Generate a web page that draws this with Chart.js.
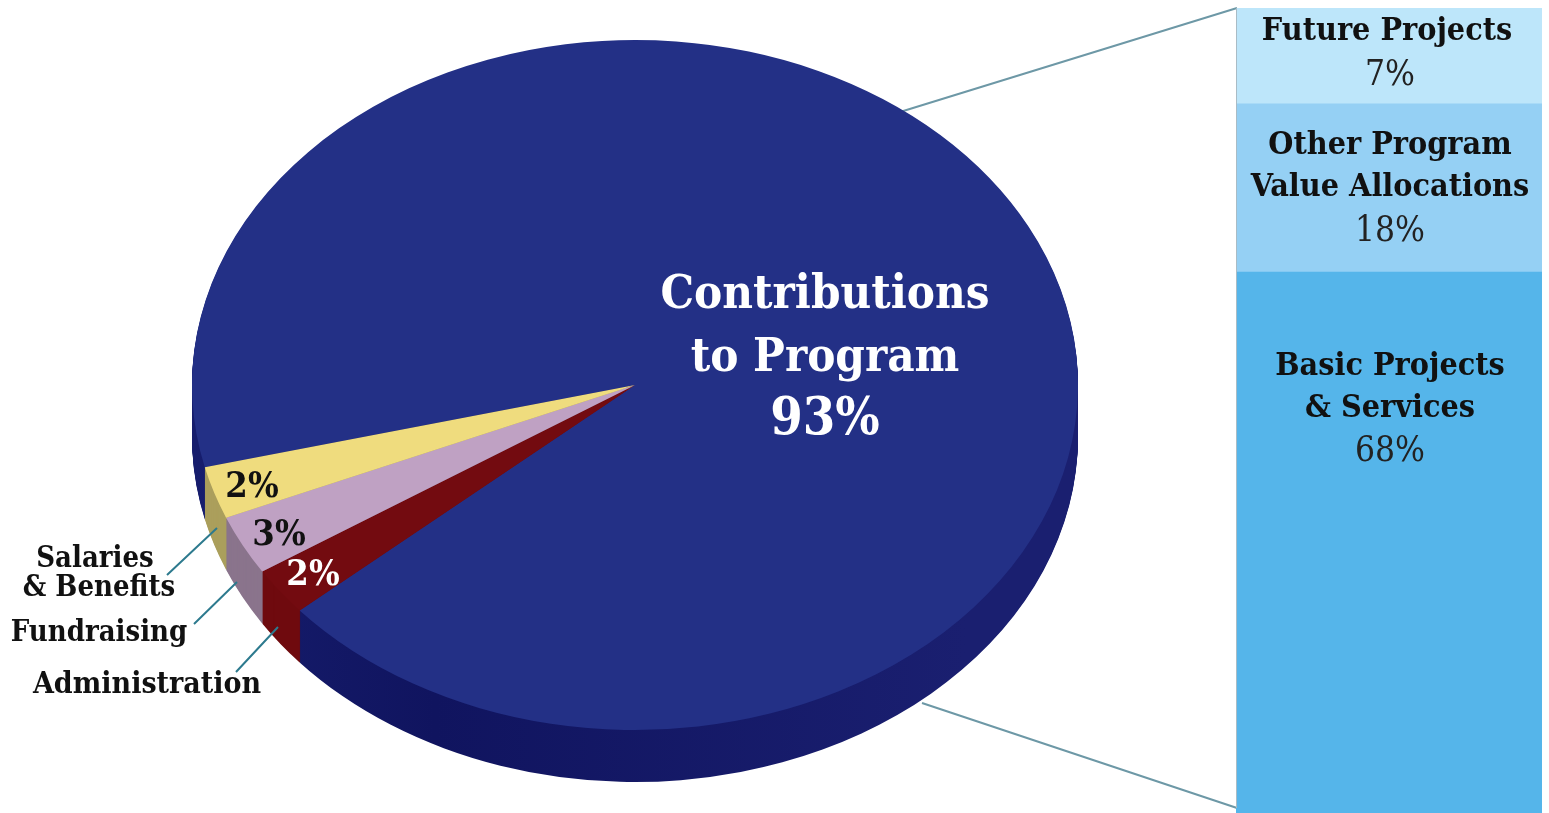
<!DOCTYPE html>
<html>
<head>
<meta charset="utf-8">
<script src="https://cdn.jsdelivr.net/npm/chart.js@4"></script>
<style>
  html, body { margin: 0; padding: 0; background: #fff; overflow: hidden; }
  #pieChart { position: absolute; left: 0; top: 0; }
  #barChart { position: absolute; left: 1236px; top: 8px; }
</style>
</head>
<body>
<canvas id="pieChart" width="1549" height="813"></canvas>
<canvas id="barChart" width="306" height="805"></canvas>
<script>
// pie data, order runs clockwise from the top edge of the big slice
// slices are drawn as wide as they look in the picture, printed numbers are kept apart
const pieLabels = ['Contributions to Program', 'Administration', 'Fundraising', 'Salaries & Benefits'];
const pieValues = [92.5, 2.25, 2.8, 2.45];
const piePercents = ['93%', '2%', '3%', '2%'];
const pieColors = ['#233086', '#730b10', '#bfa1c3', '#efdc7e'];
const wallColors = ['#141a68', '#6f0a0e', '#8a748c', '#ab9f5c'];

// the breakout bar is not drawn to scale with its labels, these are the heights as seen
const barLabels = ['Basic Projects & Services', 'Other Program Value Allocations', 'Future Projects'];
const barHeights = [67.2, 20.9, 11.9];
const barPercents = ['68%', '18%', '7%'];
const barColors = ['#55b5ea', '#95d0f4', '#bde6fa'];

const serif = '"DejaVu Serif Condensed", "DejaVu Serif", serif';

// ellipse of the pie on the page
const pie = { cx: 635, cy: 385, rx: 443, ry: 345, depth: 52 };

function writeText(ctx, items) {
  ctx.textAlign = 'center';
  ctx.textBaseline = 'middle';
  items.forEach(t => {
    ctx.font = t[4] + ' ' + serif;
    ctx.fillStyle = t[3];
    ctx.fillText(t[0], t[1], t[2]);
  });
}

function toEllipse(ctx, chart, element) {
  const r = element.outerRadius;
  ctx.translate(pie.cx, pie.cy);
  ctx.scale(pie.rx / r, pie.ry / r);
  ctx.translate(-element.x, -element.y);
}

const tiltPlugin = {
  id: 'tilt',
  beforeDatasetsDraw(chart) {
    const ctx = chart.ctx;
    const arcs = chart.getDatasetMeta(0).data;

    // connectors to the bar sit under the pie
    ctx.save();
    ctx.strokeStyle = '#6d98a6';
    ctx.lineWidth = 2;
    ctx.beginPath();
    ctx.moveTo(900, 112); ctx.lineTo(1237, 8);
    ctx.moveTo(922, 703); ctx.lineTo(1237, 808);
    ctx.stroke();
    ctx.restore();

    // side wall: stacked copies of the slices, shifted down
    const wallFill = ctx.createLinearGradient(pie.cx - pie.rx, 0, pie.cx + pie.rx, 0);
    wallFill.addColorStop(0, '#1b2478');
    wallFill.addColorStop(0.45, '#10145f');
    wallFill.addColorStop(1, '#1a1f70');
    for (let d = pie.depth; d > 0; d--) {
      arcs.forEach((arc, i) => {
        ctx.save();
        ctx.translate(0, d);
        toEllipse(ctx, chart, arc);
        ctx.beginPath();
        ctx.moveTo(arc.x, arc.y);
        ctx.arc(arc.x, arc.y, arc.outerRadius, arc.startAngle, arc.endAngle);
        ctx.closePath();
        ctx.fillStyle = i === 0 ? wallFill : wallColors[i];
        ctx.fill();
        ctx.restore();
      });
    }

    ctx.save();
    toEllipse(ctx, chart, arcs[0]);
  },
  afterDatasetsDraw(chart) {
    const ctx = chart.ctx;
    ctx.restore();

    // leader lines
    ctx.save();
    ctx.strokeStyle = '#2d7a8e';
    ctx.lineWidth = 2;
    ctx.beginPath();
    ctx.moveTo(167, 575); ctx.lineTo(217, 528);
    ctx.moveTo(194, 624); ctx.lineTo(237, 582);
    ctx.moveTo(236, 672); ctx.lineTo(278, 627);
    ctx.stroke();

    writeText(ctx, [
      ['Contributions', 825, 296, '#fff', 'bold 47px'],
      ['to Program', 825, 359, '#fff', 'bold 47px'],
      [piePercents[0], 825, 420, '#fff', 'bold 52px'],
      [piePercents[3], 252, 488, '#111', 'bold 36px'],
      [piePercents[2], 279, 536, '#111', 'bold 36px'],
      [piePercents[1], 313, 576, '#fff', 'bold 36px'],
      ['Salaries', 95, 559, '#111', 'bold 29px'],
      ['& Benefits', 99, 588, '#111', 'bold 29px'],
      ['Fundraising', 99, 633, '#111', 'bold 29px'],
      ['Administration', 147, 685, '#111', 'bold 30px']
    ]);
    ctx.restore();
  }
};

const barTextPlugin = {
  id: 'barText',
  afterDatasetsDraw(chart) {
    const ctx = chart.ctx;
    ctx.save();
    // thin grey edge on the left of the bar
    ctx.fillStyle = '#a9bcc6';
    ctx.fillRect(0, 0, 1, 800);
    ctx.translate(-1236, -8);
    writeText(ctx, [
      ['Future Projects', 1387, 32, '#111', 'bold 32px'],
      [barPercents[2], 1390, 76, '#222', '35px'],
      ['Other Program', 1390, 146, '#111', 'bold 32px'],
      ['Value Allocations', 1390, 188, '#111', 'bold 32px'],
      [barPercents[1], 1390, 232, '#222', '35px'],
      ['Basic Projects', 1390, 367, '#111', 'bold 32px'],
      ['& Services', 1390, 409, '#111', 'bold 32px'],
      [barPercents[0], 1390, 452, '#222', '35px']
    ]);
    ctx.restore();
  }
};

new Chart(document.getElementById('pieChart'), {
  type: 'pie',
  data: {
    labels: pieLabels,
    datasets: [{ data: pieValues, backgroundColor: pieColors, borderWidth: 0, clip: false }]
  },
  options: {
    responsive: false,
    animation: false,
    rotation: 256.2,
    plugins: { legend: { display: false }, tooltip: { enabled: false } }
  },
  plugins: [tiltPlugin]
});

new Chart(document.getElementById('barChart'), {
  type: 'bar',
  data: {
    labels: [''],
    datasets: barLabels.map((name, i) => ({
      label: name,
      data: [barHeights[i]],
      backgroundColor: barColors[i],
      borderWidth: 0,
      barPercentage: 1,
      categoryPercentage: 1
    }))
  },
  options: {
    responsive: false,
    animation: false,
    scales: {
      x: { stacked: true, display: false },
      y: { stacked: true, display: false, min: 0, max: 100 }
    },
    plugins: { legend: { display: false }, tooltip: { enabled: false } }
  },
  plugins: [barTextPlugin]
});
</script>
</body>
</html>
